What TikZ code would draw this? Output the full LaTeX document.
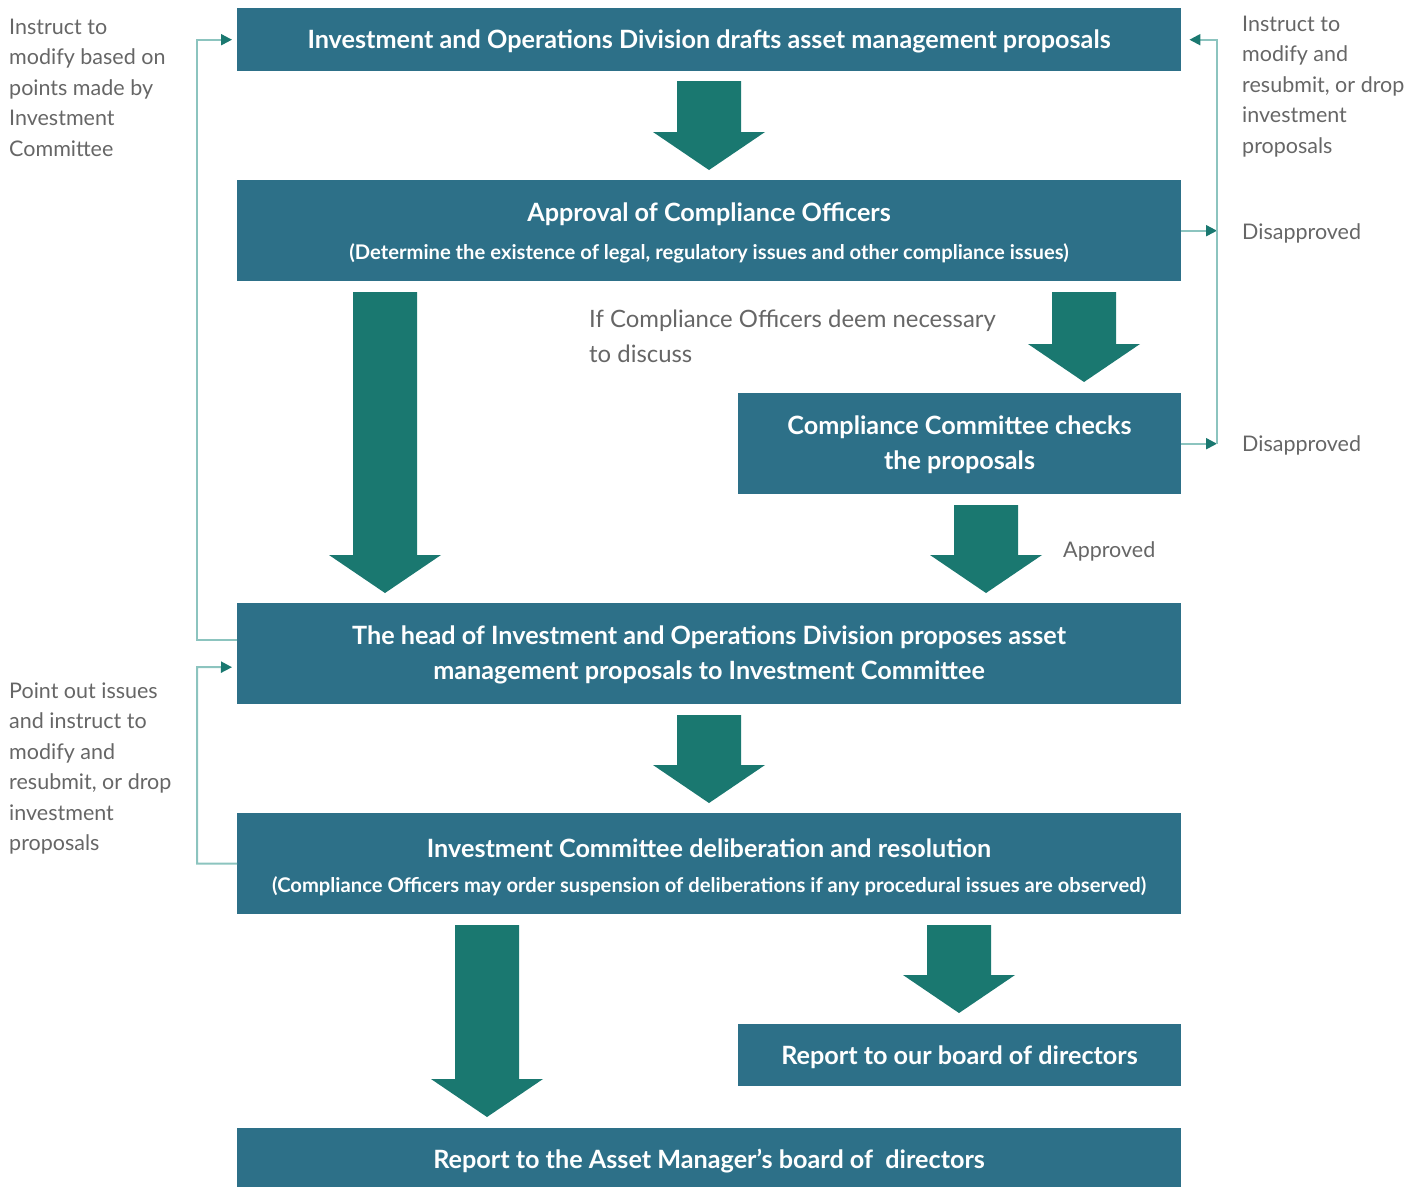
\documentclass[tikz,border=0pt]{standalone}
\usepackage{fontspec}
\setmainfont{Lato}
\usetikzlibrary{arrows.meta}
\definecolor{boxc}{HTML}{2D7088}
\definecolor{arrc}{HTML}{1A7870}
\definecolor{linec}{HTML}{8CC4BF}
\definecolor{txtc}{HTML}{666666}
\newcommand\fatarrow[3]{%
  \fill[arrc] (#1-32,#2) -- (#1+32,#2) -- (#1+32,#3-38) -- (#1+56,#3-38) -- (#1,#3) -- (#1-56,#3-38) -- (#1-32,#3-38) -- cycle;}
\newcommand\toplines[1]{\parbox[t]{500pt}{\raggedright #1}}
\begin{document}
\begin{tikzpicture}[x=1pt,y=-1pt,
  box/.style={fill=boxc, draw=none, anchor=north west, inner sep=0pt},
  title/.style={text=white, font=\fontsize{25.2}{35.5}\selectfont\bfseries, align=center, inner sep=0pt},
  subtitle/.style={text=white, font=\fontsize{20.2}{24}\selectfont\bfseries, inner sep=0pt},
  lbl/.style={text=txtc, font=\fontsize{21.5}{30.5}\selectfont, inner sep=0pt, anchor=base west},
  conn/.style={draw=linec, line width=2pt, -{Triangle[length=11pt,width=11pt,color=arrc]}},
  connplain/.style={draw=linec, line width=2pt}]
\useasboundingbox (0,0) rectangle (1426,1187);
% boxes
\node[box, minimum width=944pt, minimum height=63pt] (b1) at (237,8) {};
\node[box, minimum width=944pt, minimum height=101pt] (b2) at (237,180) {};
\node[box, minimum width=443pt, minimum height=101pt] (b3) at (738,393) {};
\node[box, minimum width=944pt, minimum height=101pt] (b4) at (237,603) {};
\node[box, minimum width=944pt, minimum height=101pt] (b5) at (237,813) {};
\node[box, minimum width=443pt, minimum height=62pt] (b6) at (738,1024) {};
\node[box, minimum width=944pt, minimum height=59pt] (b7) at (237,1128) {};
% box texts
\node[title] (t1) at (709,41) {Investment and Operations Division drafts asset management proposals};
\node[title] (t2) at (709,214) {Approval of Compliance Officers};
\node[subtitle] (s2) at (709,253) {(Determine the existence of legal, regulatory issues and other compliance issues)};
\node[title] (t3) at (959.5,444.5) {Compliance Committee checks\\the proposals};
\node[title] (t4) at (709,655) {The head of Investment and Operations Division proposes asset\\management proposals to Investment Committee};
\node[title] (t5) at (709,848) {Investment Committee deliberation and resolution};
\node[subtitle] (s5) at (709,886) {(Compliance Officers may order suspension of deliberations if any procedural issues are observed)};
\node[title] (t6) at (959.5,1057) {Report to our board of directors};
\node[title] (t7) at (709,1161) {Report to the Asset Manager’s board of~ directors};
% fat arrows
\fatarrow{709}{81}{170}
\fatarrow{385}{292}{593}
\fatarrow{1084}{292}{382}
\fatarrow{986}{505}{593}
\fatarrow{709}{715}{803}
\fatarrow{487}{925}{1117}
\fatarrow{959}{925}{1013}
% thin connectors
\coordinate (lj) at (197,0);
\coordinate (rj) at (1217,0);
\draw[conn] ([yshift=13.5pt]b4.west) -| (lj |- b1.west) -- ([xshift=-5pt]b1.west);
\draw[conn] (b5.west) -| (lj |- 0,667) -- ([xshift=-5pt,yshift=-13.5pt]b4.west);
\draw[conn] (b2.east) -- (b2.east -| rj);
\draw[conn] (b3.east) -- (b3.east -| rj);
\draw[conn] (b3.east -| rj) -- (b1.east -| rj) -- ([xshift=8pt]b1.east);
% labels
\node[lbl] (l1) at (9,34) {\toplines{Instruct to\\modify based on\\points made by\\Investment\\Committee}};
\node[lbl] (l2) at (9,698) {\toplines{Point out issues\\and instruct to\\modify and\\resubmit, or drop\\investment\\proposals}};
\node[lbl] (r1) at (1242,31) {\toplines{Instruct to\\modify and\\resubmit, or drop\\investment\\proposals}};
\node[lbl] (r2) at (1242,239) {Disapproved};
\node[lbl] (r3) at (1242,451) {Disapproved};
\node[lbl] (ap) at (1063,557) {Approved};
\node[lbl, font=\fontsize{23.9}{35}\selectfont] (mid) at (589,327) {\toplines{If Compliance Officers deem necessary\\to discuss}};
\end{tikzpicture}
\end{document}
